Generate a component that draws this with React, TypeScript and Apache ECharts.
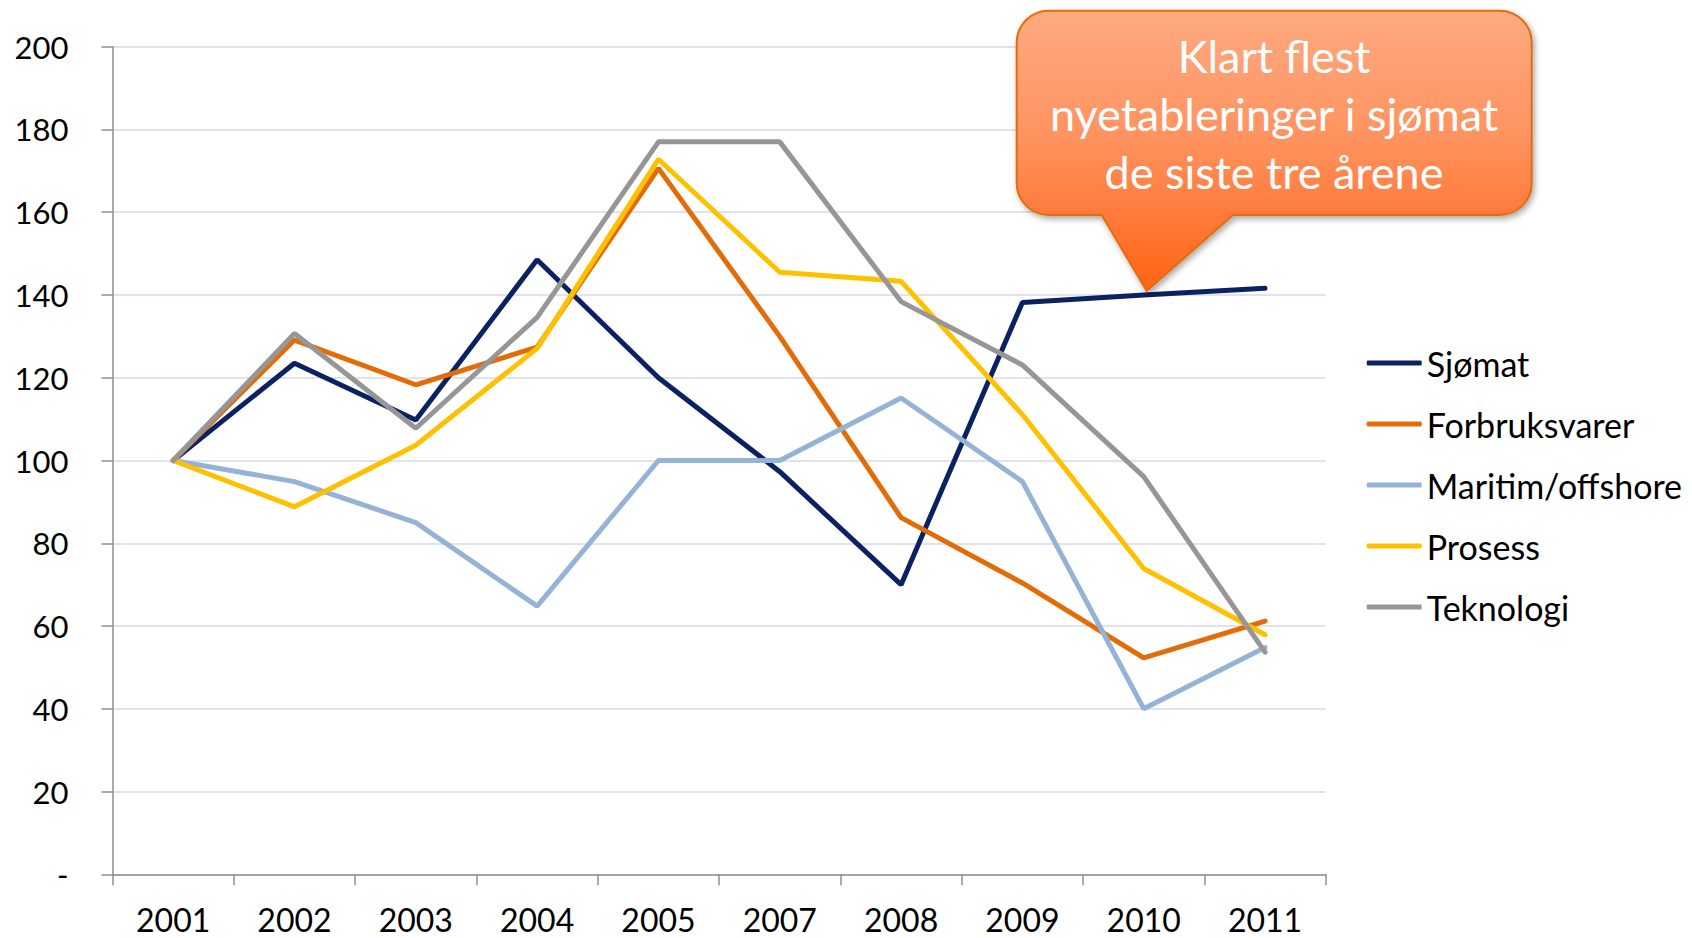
import React, { useEffect, useRef } from "react";
import * as echarts from "echarts";

const years = ["2001", "2002", "2003", "2004", "2005", "2007", "2008", "2009", "2010", "2011"];
const sjomat = [100, 123.5, 109.8, 148.5, 120, 97.3, 70, 138.2, 140, 141.6];
const forbruksvarer = [100, 129.1, 118.3, 127.4, 170.6, 130, 86.2, 70.4, 52.3, 61.2];
const maritim = [100, 94.9, 85, 64.8, 100, 100, 115.1, 94.9, 40, 54.8];
const prosess = [100, 88.8, 103.7, 127.1, 172.8, 145.5, 143.3, 111.1, 73.9, 57.9];
const teknologi = [100, 130.7, 107.8, 134.6, 177, 177, 138.4, 123.1, 96.1, 53.7];

const seriesNames = ["Sjømat", "Forbruksvarer", "Maritim/offshore", "Prosess", "Teknologi"];
const seriesValues = [sjomat, forbruksvarer, maritim, prosess, teknologi];
const seriesColors = ["#0B2262", "#E36C09", "#95B3D7", "#FFC000", "#969696"];

const calloutLines = ["Klart flest", "nyetableringer i sjømat", "de siste tre årene"];

const CALLOUT_PATH =
  "M 1048.7 10.7 L 1499.7 10.7 C 1517.4 10.7 1531.7 25 1531.7 42.7 L 1531.7 183 " +
  "C 1531.7 200.7 1517.4 215 1499.7 215 L 1233 215 L 1146.7 291 L 1101.7 215 L 1048.7 215 " +
  "C 1031 215 1016.7 200.7 1016.7 183 L 1016.7 42.7 C 1016.7 25 1031 10.7 1048.7 10.7 Z";

let registered = false;

export default function App() {
  const ref = useRef<HTMLDivElement>(null);

  useEffect(() => {
    if (!ref.current) return;
    if (!registered) {
      echarts.graphic.registerShape("callout", echarts.graphic.extendPath(CALLOUT_PATH, {}));
      registered = true;
    }
    const chart = echarts.init(ref.current, null, { renderer: "svg" });
    const font = "Lato";
    const option: any = {
      animation: false,
      backgroundColor: "#ffffff",
      textStyle: { fontFamily: font },
      grid: { left: 112.5, right: 366.3, top: 46.7, bottom: 63.7, containLabel: false },
      xAxis: {
        type: "category",
        data: years,
        boundaryGap: true,
        axisLine: { show: true, lineStyle: { color: "#8E8E8E", width: 1.5 } },
        axisTick: { show: true, length: 11, alignWithLabel: false, lineStyle: { color: "#8E8E8E", width: 1.5 } },
        axisLabel: { color: "#000", fontSize: 32, fontFamily: font, margin: 33, lineHeight: 24 },
        splitLine: { show: false },
      },
      yAxis: {
        type: "value",
        min: 0,
        max: 200,
        interval: 20,
        axisLine: { show: true, lineStyle: { color: "#8E8E8E", width: 1.5 } },
        axisTick: { show: true, length: 11, lineStyle: { color: "#8E8E8E", width: 1.5 } },
        axisLabel: {
          color: "#000",
          fontSize: 31,
          fontFamily: font,
          margin: 44,
          formatter: (v: number) => (v === 0 ? "-" : String(v)),
        },
        splitLine: { show: true, lineStyle: { color: "#D6DAE9", width: 1.5 } },
      },
      legend: {
        orient: "vertical",
        left: 1361.7,
        top: 341,
        itemWidth: 55,
        itemHeight: 5,
        itemGap: 27,
        icon: "roundRect",
        textStyle: { color: "#000", fontSize: 34, fontFamily: font, lineHeight: 33 },
        data: seriesNames,
      },
      series: seriesNames.map((name, i) => ({
        name,
        type: "line",
        data: seriesValues[i],
        symbol: "none",
        showSymbol: false,
        color: seriesColors[i],
        lineStyle: { color: seriesColors[i], width: 5, cap: "round" },
      })),
      graphic: [
        {
          type: "callout",
          x: 0,
          y: 0,
          z: 100,
          style: {
            fill: new echarts.graphic.LinearGradient(0, 0, 0, 1, [
              { offset: 0, color: "#FEAA80" },
              { offset: 0.45, color: "#FF9360" },
              { offset: 0.72, color: "#FF7B3C" },
              { offset: 1, color: "#FF6412" },
            ]),
            stroke: "#E46C0A",
            lineWidth: 2,
            shadowBlur: 6,
            shadowOffsetX: 2,
            shadowOffsetY: 3,
            shadowColor: "rgba(0,0,0,0.35)",
          },
        },
        ...calloutLines.map((t, i) => ({
          type: "text",
          x: 1274,
          y: 56 + i * 58,
          z: 101,
          style: {
            text: t,
            fill: "#ffffff",
            font: `45px ${font}`,
            fontSize: 45,
            fontFamily: font,
            align: "center",
            verticalAlign: "middle",
            textAlign: "center",
            textVerticalAlign: "middle",
          },
        })),
      ],
    };
    chart.setOption(option);
    return () => chart.dispose();
  }, []);

  return (
    <div
      ref={ref}
      style={{ position: "fixed", left: 0, top: 0, width: 1692, height: 938, background: "#fff" }}
    />
  );
}
